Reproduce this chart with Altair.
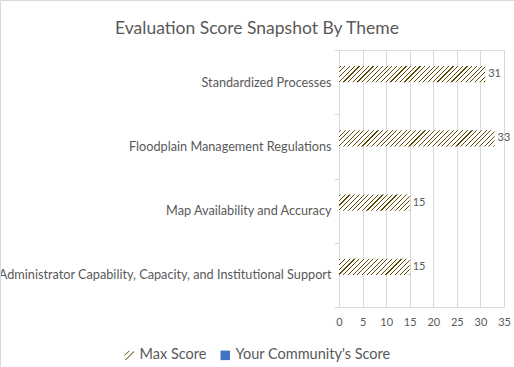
import altair as alt
import pandas as pd

themes = [
    "Standardized Processes",
    "Floodplain Management Regulations",
    "Map Availability and Accuracy",
    "Administrator Capability, Capacity, and Institutional Support",
]
max_scores = [31, 33, 15, 15]
community_scores = [0, 0, 0, 0]
series_names = ["Max Score", "Your Community's Score"]
x_ticks = [0, 5, 10, 15, 20, 25, 30, 35]

rows = []
for t, m, c in zip(themes, max_scores, community_scores):
    rows.append({"theme": t, "series": series_names[0], "score": m})
    rows.append({"theme": t, "series": series_names[1], "score": c})
df = pd.DataFrame(rows)

FONT = "Lato"
GREY = "#595959"
GRID = "#d9d9d9"
PLOT_W, PLOT_H = 165, 257
X_MAX = 35
HATCH = "#5e4a08"
step = PLOT_H / len(themes)
BAR_H = step / 4.0


def hatch_gradient(px_w, px_h, period=4.7, thick=1.15, phase=1.0):
    total = px_w + px_h
    k = total / (px_w + px_h * px_h / px_w)
    stops = [alt.GradientStop(color="white", offset=0)]
    s = phase
    while s < total:
        t0 = s / total
        t1 = min((s + thick) / total, 1.0)
        stops += [
            alt.GradientStop(color="white", offset=t0),
            alt.GradientStop(color=HATCH, offset=t0),
            alt.GradientStop(color=HATCH, offset=t1),
            alt.GradientStop(color="white", offset=t1),
        ]
        s += period
    return alt.LinearGradient(gradient="linear", stops=stops,
                              x1=0, y1=0, x2=k, y2=k * px_h / px_w)


def stripe_path(cs, w):
    """Diagonal '/' stripes inside the [-1,1] square, as filled polygons."""
    def seg(c):
        if c >= 0:
            return (c - 1, 1), (1, c - 1)
        return (-1, c + 1), (c + 1, -1)
    parts = []
    for c in cs:
        a1, a2 = seg(c)
        b1, b2 = seg(c + w)
        pts = [a1, a2, b2, b1]
        parts.append("M" + "L".join(f"{x:.3f},{y:.3f}" for x, y in pts) + "Z")
    return "".join(parts)


x_enc = alt.X("score:Q", scale=alt.Scale(domain=[0, X_MAX], nice=False, zero=True),
              axis=alt.Axis(values=x_ticks, title=None, domain=False, ticks=False,
                            grid=True, gridColor=GRID, labelFont=FONT, labelFontSize=11,
                            labelColor=GREY, labelPadding=9, labelFlush=False))
y_enc = alt.Y("theme:N", sort=themes,
              scale=alt.Scale(paddingInner=0, paddingOuter=0),
              axis=alt.Axis(title=None, labelLimit=1000, labelFont=FONT, labelFontSize=12.7,
                            labelColor=GREY, domainColor=GRID, tickColor=GRID, tickSize=5,
                            tickBand="extent", labelPadding=3, grid=False))
yoff_enc = alt.YOffset("series:N", scale=alt.Scale(domain=series_names, paddingInner=0,
                                                   paddingOuter=1))

legend = alt.Legend(
    title=None, orient="none", legendX=-217, legendY=298,
    direction="horizontal", symbolSize=90,
    symbolStrokeWidth=0, labelFont=FONT, labelFontSize=14.5,
    labelColor=GREY, labelOffset=3, columnPadding=11,
)
fill_scale = alt.Scale(domain=series_names, range=[HATCH, "#4472C4"])
shape_scale = alt.Scale(domain=series_names,
                        range=[stripe_path([-1.1, 0.1], 0.22), "square"])

base = alt.Chart(df)
layers = []

# border of the chart area
border = alt.Chart(pd.DataFrame({"a": [0]})).mark_rect(
    fill="transparent", stroke=GRID, strokeWidth=1
).encode(x=alt.value(-338.5), x2=alt.value(200), y=alt.value(-49.5), y2=alt.value(400))
layers.append(border)

for t, m in zip(themes, max_scores):
    g = hatch_gradient(m * PLOT_W / X_MAX, BAR_H)
    layers.append(
        base.transform_filter(
            (alt.datum.theme == t) & (alt.datum.series == series_names[0])
        ).mark_bar(fill=g).encode(x=x_enc, y=y_enc, yOffset=yoff_enc)
    )

community = base.transform_filter(alt.datum.series == series_names[1]).mark_bar().encode(
    x=x_enc, y=y_enc, yOffset=yoff_enc,
    fill=alt.Fill("series:N", scale=fill_scale, legend=legend),
)
layers.append(community)

# legend-only layer (no rows drawn) carrying the swatch shapes
legend_layer = base.transform_filter("false").mark_point(filled=True, opacity=1).encode(
    x=x_enc, y=y_enc,
    fill=alt.Fill("series:N", scale=fill_scale, legend=legend),
    shape=alt.Shape("series:N", scale=shape_scale, legend=legend),
)
layers.append(legend_layer)

labels = base.transform_filter(alt.datum.series == series_names[0]).mark_text(
    align="left", baseline="middle", dx=3, font=FONT, fontSize=11, color=GREY
).encode(x=x_enc, y=y_enc, yOffset=yoff_enc, text=alt.Text("score:Q"))
layers.append(labels)

chart = alt.layer(*layers).properties(
    width=PLOT_W, height=PLOT_H,
    title=alt.TitleParams("Evaluation Score Snapshot By Theme", font=FONT, fontSize=17.5,
                          fontWeight="normal", color=GREY, anchor="middle", frame="group",
                          dx=257 - (339 + PLOT_W / 2), offset=15, dy=52),
    autosize=alt.AutoSizeParams(type="none"),
    padding={"left": 339, "top": 50, "right": 10, "bottom": 60},
).configure_view(stroke=None).configure(background="white")

chart.save("out.html", embed_options={"renderer": "svg", "actions": False})
